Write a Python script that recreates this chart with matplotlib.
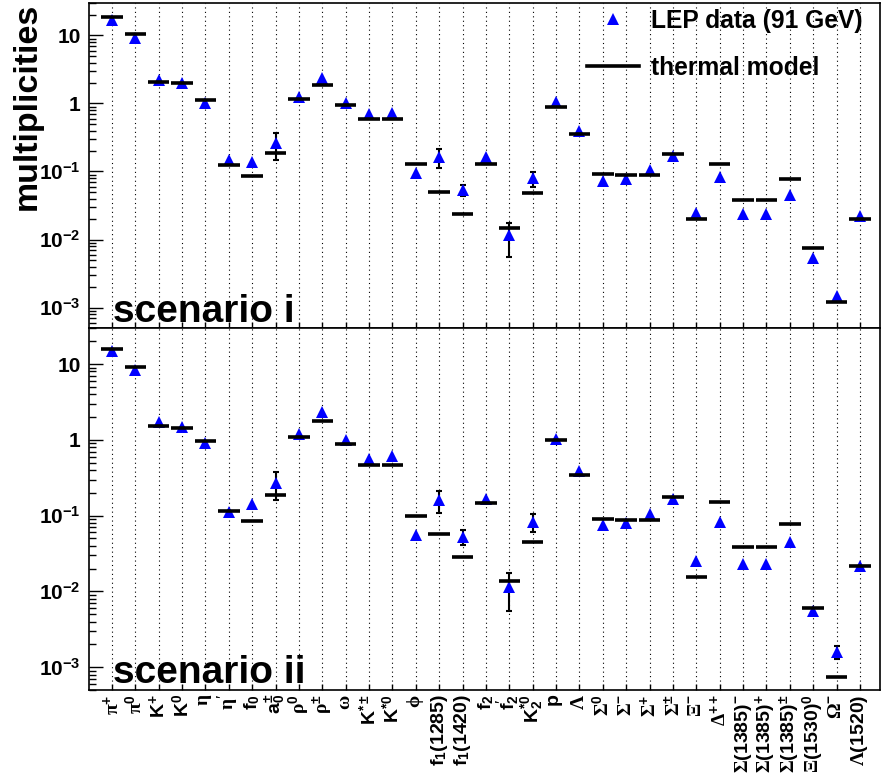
import matplotlib
matplotlib.use('Agg')
import matplotlib.pyplot as plt
import numpy as np
from matplotlib.ticker import LogLocator, NullFormatter
from matplotlib.lines import Line2D

plt.rcParams['font.family'] = ['Liberation Sans', 'DejaVu Sans']
plt.rcParams['font.weight'] = 'bold'
plt.rcParams['mathtext.fontset'] = 'custom'
plt.rcParams['mathtext.rm'] = 'Liberation Serif'
plt.rcParams['mathtext.bf'] = 'Liberation Sans:bold'
plt.rcParams['mathtext.it'] = 'Liberation Serif:italic'
plt.rcParams['mathtext.sf'] = 'Liberation Sans:bold'

# ---------------- data ----------------
particles = [
    r'$\mathrm{\pi}^{\mathbf{+}}$', r'$\mathrm{\pi}^{\mathbf{0}}$',
    r'$\mathbf{K}^{\mathbf{+}}$', r'$\mathbf{K}^{\mathbf{0}}$',
    r'$\mathrm{\eta}$', r"$\mathrm{\eta}'$",
    r'$\mathbf{f}_{\mathbf{0}}$', r'$\mathbf{a}_{\mathbf{0}}^{\mathbf{\pm}}$',
    r'$\mathrm{\rho}^{\mathbf{0}}$', r'$\mathrm{\rho}^{\mathbf{\pm}}$',
    r'$\mathrm{\omega}$',
    r'$\mathbf{K}^{\mathbf{*\pm}}$', r'$\mathbf{K}^{\mathbf{*0}}$',
    r'$\mathrm{\phi}$',
    r'$\mathbf{f}_{\mathbf{1}}\mathbf{(1285)}$', r'$\mathbf{f}_{\mathbf{1}}\mathbf{(1420)}$',
    r'$\mathbf{f}_{\mathbf{2}}$', r"$\mathbf{f}_{\mathbf{2}}'$",
    r'$\mathbf{K}_{\mathbf{2}}^{\mathbf{*0}}$',
    r'$\mathbf{p}$', r'$\mathrm{\Lambda}$',
    r'$\mathrm{\Sigma}^{\mathbf{0}}$', r'$\mathrm{\Sigma}^{\mathbf{-}}$',
    r'$\mathrm{\Sigma}^{\mathbf{+}}$', r'$\mathrm{\Sigma}^{\mathbf{\pm}}$',
    r'$\mathrm{\Xi}^{\mathbf{-}}$', r'$\mathrm{\Delta}^{\mathbf{++}}$',
    r'$\mathrm{\Sigma}\mathbf{(1385)}^{\mathbf{-}}$',
    r'$\mathrm{\Sigma}\mathbf{(1385)}^{\mathbf{+}}$',
    r'$\mathrm{\Sigma}\mathbf{(1385)}^{\mathbf{\pm}}$',
    r'$\mathrm{\Xi}\mathbf{(1530)}^{\mathbf{0}}$',
    r'$\mathrm{\Omega}^{\mathbf{-}}$',
    r'$\mathrm{\Lambda}\mathbf{(1520)}$',
]

data_i = [17.0, 9.3, 2.18, 2.0, 1.01, 0.148, 0.14, 0.26, 1.24, 2.36, 1.01,
          0.71, 0.72, 0.094, 0.162, 0.054, 0.162, 0.0115, 0.079, 1.05, 0.39,
          0.073, 0.077, 0.106, 0.17, 0.0249, 0.083, 0.0234, 0.0234, 0.0444,
          0.0053, 0.0015, 0.0224]
err_i = [0, 0, 0, 0, 0, 0, 0, 0.11, 0, 0, 0,
         0, 0, 0, 0.05, 0.01, 0, 0.006, 0.02, 0, 0,
         0, 0, 0, 0, 0, 0, 0, 0, 0,
         0, 0, 0]
model_i = [18.6, 10.6, 2.06, 1.97, 1.12, 0.126, 0.085, 0.184, 1.15, 1.90, 0.935,
           0.60, 0.60, 0.131, 0.050, 0.0234, 0.13, 0.0147, 0.049, 0.90, 0.358,
           0.091, 0.088, 0.089, 0.178, 0.0197, 0.131, 0.0375, 0.0385, 0.077,
           0.00745, 0.0012, 0.0197]

data_ii = [15.1, 8.3, 1.73, 1.48, 0.91, 0.111, 0.144, 0.27, 1.21, 2.31, 0.99,
           0.568, 0.61, 0.0556, 0.16, 0.053, 0.165, 0.0115, 0.082, 1.03, 0.394,
           0.0745, 0.079, 0.106, 0.168, 0.0253, 0.082, 0.0233, 0.0233, 0.0455,
           0.00546, 0.00158, 0.0218]
err_ii = [0, 0, 0, 0, 0, 0, 0, 0.11, 0, 0, 0,
          0, 0, 0, 0.05, 0.012, 0, 0.006, 0.022, 0, 0,
          0, 0, 0, 0, 0, 0, 0, 0, 0,
          0, 0.0003, 0]
model_ii = [15.7, 9.2, 1.51, 1.45, 0.98, 0.117, 0.085, 0.188, 1.08, 1.76, 0.893,
            0.473, 0.47, 0.0988, 0.058, 0.0285, 0.145, 0.0137, 0.045, 1.0, 0.342,
            0.091, 0.0867, 0.0885, 0.176, 0.0153, 0.153, 0.0383, 0.0389, 0.0776,
            0.006, 0.00075, 0.0214]

ytick_vals = [1e-3, 1e-2, 1e-1, 1, 10]
ytick_labels = [r'$\mathbf{10}^{\mathbf{-3}}$', r'$\mathbf{10}^{\mathbf{-2}}$',
                r'$\mathbf{10}^{\mathbf{-1}}$', '1', '10']

# ---------------- figure ----------------
W, H = 882, 773
fig = plt.figure(figsize=(W / 100, H / 100), dpi=100)
ax1 = fig.add_axes([89 / W, 1 - 328 / H, 791 / W, 325 / H])
ax2 = fig.add_axes([89 / W, 1 - 690 / H, 791 / W, 362 / H])

x = np.arange(len(particles))
BLUE = '#0000ff'


def draw(ax, data, err, model, title):
    data = np.asarray(data)
    err = np.asarray(err)
    model = np.asarray(model)
    ax.set_yscale('log')
    ax.set_xlim(-0.98, 32.86)
    ax.set_ylim(5e-4, 30)
    ax.set_xticks(x)
    ax.grid(axis='x', color='black', linestyle=(0, (1, 3)), linewidth=0.8)
    ax.set_axisbelow(True)
    m = err > 0
    ax.errorbar(x[m], data[m], yerr=err[m], fmt='none', ecolor='black',
                elinewidth=1.5, capsize=2.5, capthick=1.5, zorder=3)
    ax.plot(x, data, linestyle='none', marker='^', color=BLUE,
            markersize=9, markeredgewidth=0, zorder=4)
    ax.errorbar(x, model, xerr=0.46, fmt='none', ecolor='black',
                elinewidth=2.6, zorder=5)
    ax.set_yticks(ytick_vals, labels=ytick_labels)
    ax.yaxis.set_minor_locator(LogLocator(base=10, subs=np.arange(2, 10)))
    ax.yaxis.set_minor_formatter(NullFormatter())
    ax.tick_params(axis='y', which='major', direction='in', length=10,
                   width=1, labelsize=15, pad=6)
    ax.tick_params(axis='y', which='minor', direction='in', length=5, width=1)
    ax.tick_params(axis='x', which='major', direction='in', length=4, width=1)
    for s in ax.spines.values():
        s.set_linewidth(1.2)
    ax.text(0.03, 0.018, title, transform=ax.transAxes, fontsize=28,
            fontweight='bold', ha='left', va='baseline', zorder=6)


draw(ax1, data_i, err_i, model_i, 'scenario i')
draw(ax2, data_ii, err_ii, model_ii, 'scenario ii')

ax1.tick_params(axis='x', labelbottom=False)
ax2.set_xticks(x, labels=particles)
ax2.tick_params(axis='x', labelsize=14, labelrotation=90, pad=3)

fig.text(27 / W, 1 - 3 / H, 'multiplicities', rotation=90, ha='center',
         va='top', fontsize=24.5, fontweight='bold')

handles = [Line2D([], [], marker='^', color=BLUE, linestyle='none',
                  markersize=9, markeredgewidth=0),
           Line2D([], [], color='black', linewidth=2.6)]
fig.legend(handles, ['LEP data (91 GeV)', 'thermal model'],
           loc='upper left', bbox_to_anchor=(587 / W, 1 - 9 / H),
           frameon=False, fontsize=17.7, handlelength=2.1, handletextpad=0.5,
           labelspacing=0.92, borderpad=0, borderaxespad=0)

fig.savefig('out.png', dpi=100)
